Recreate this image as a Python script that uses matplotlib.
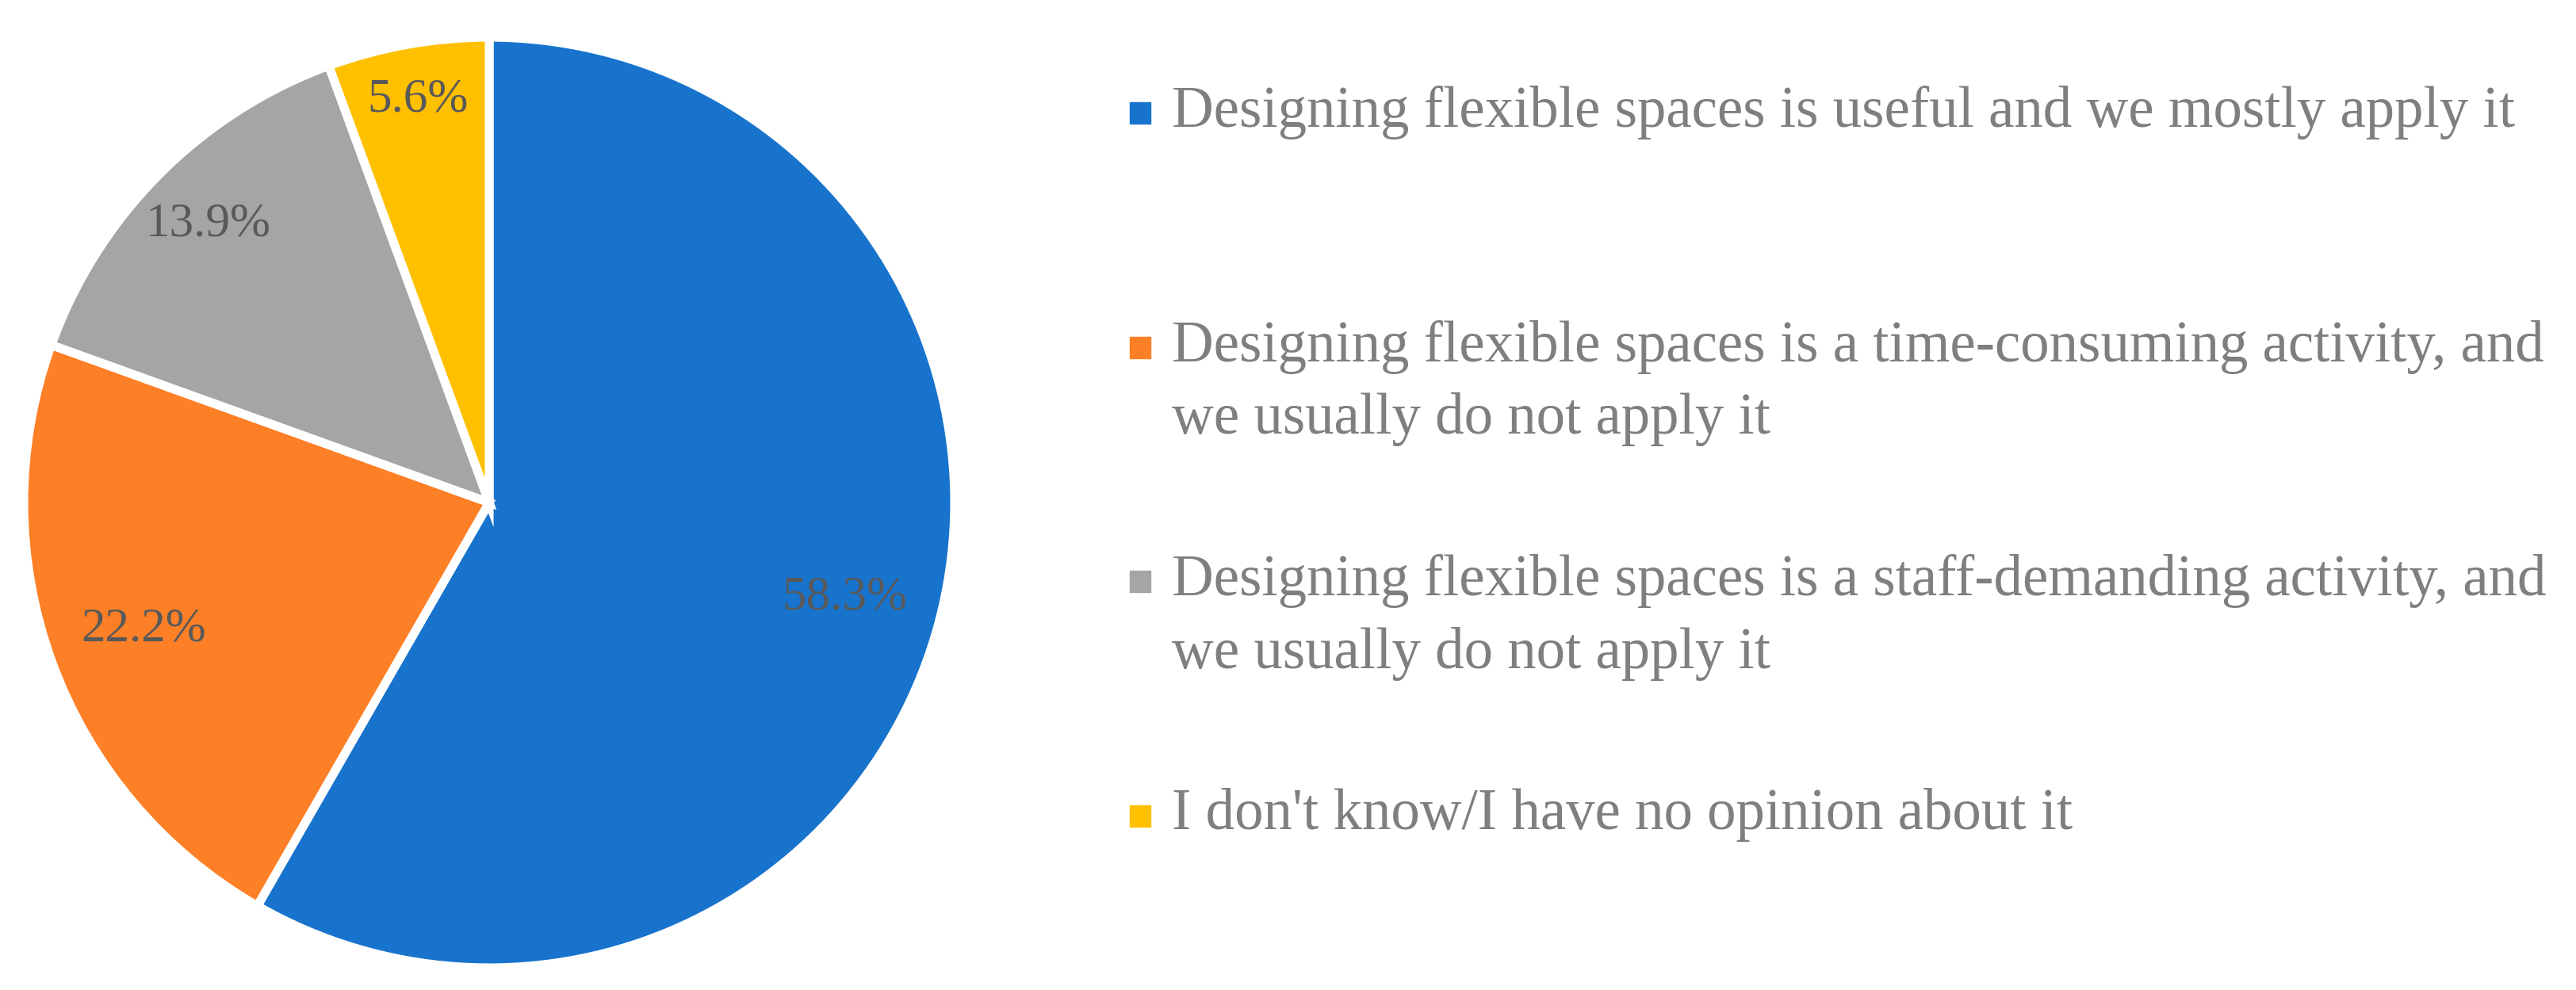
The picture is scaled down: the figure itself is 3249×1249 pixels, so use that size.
import numpy as np
import matplotlib.pyplot as plt
from matplotlib.patches import Rectangle

DPI = 100
W, H = 3249, 1249

labels = ["Designing flexible spaces is useful and we mostly apply it",
          "Designing flexible spaces is a time-consuming activity, and\nwe usually do not apply it",
          "Designing flexible spaces is a staff-demanding activity, and\nwe usually do not apply it",
          "I don't know/I have no opinion about it"]
shares = [58.3, 22.2, 13.9, 5.6]
colors = ["#1873CC", "#FD7F26", "#A5A5A5", "#FFC000"]
pct_dist = [0.79, 0.79, 0.85, 0.88]

plt.rcParams['font.family'] = ['Liberation Serif', 'DejaVu Serif']

fig = plt.figure(figsize=(W / DPI, H / DPI), dpi=DPI)

# pie centre and radius in pixels
cx, cy, r = 617, 634, 587
ax = fig.add_axes([(cx - r) / W, (H - cy - r) / H, 2 * r / W, 2 * r / H])
wedges, _, autotexts = ax.pie(shares, colors=colors, startangle=90, counterclock=False,
                              autopct='%.1f%%',
                              wedgeprops=dict(edgecolor='white', linewidth=8),
                              textprops=dict(color='#595959', fontsize=44))
ax.set_xlim(-1, 1)
ax.set_ylim(-1, 1)
for w, t, d in zip(wedges, autotexts, pct_dist):
    ang = np.deg2rad((w.theta1 + w.theta2) / 2)
    t.set_position((d * np.cos(ang), d * np.sin(ang)))

# legend drawn by hand, marker next to the first line of each entry
x_mark, x_text = 1425, 1478
base0, entry_gap, line_gap = 160, 295.5, 92
for i, (lab, col) in enumerate(zip(labels, colors)):
    b = base0 + i * entry_gap
    fig.patches.append(Rectangle((x_mark / W, 1 - (b - 4) / H), 26 / W, 27 / H,
                                 transform=fig.transFigure, color=col))
    for j, line in enumerate(lab.split('\n')):
        fig.text(x_text / W, 1 - (b + j * line_gap) / H, line, va='baseline', ha='left',
                 fontsize=52.5, color='#7f7f7f')

plt.savefig("out.png", dpi=DPI)
